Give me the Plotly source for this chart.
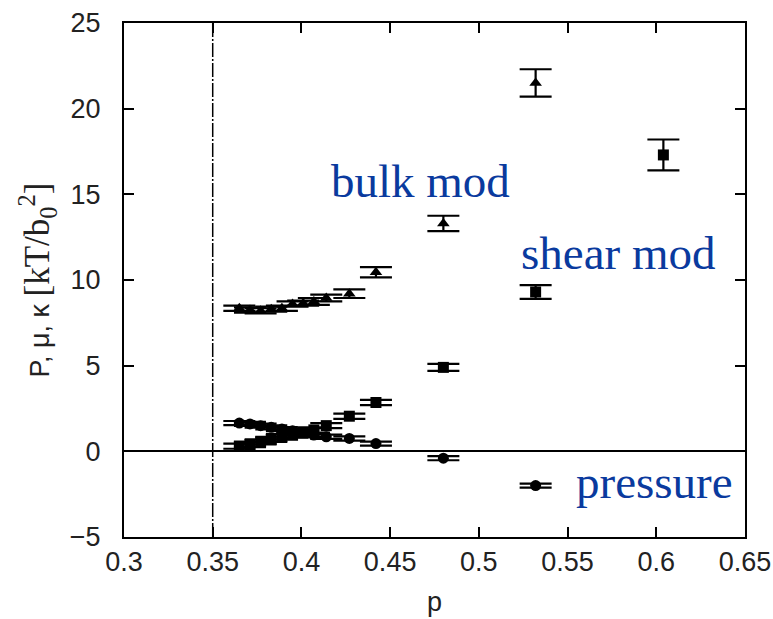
import plotly.graph_objects as go

# ---- data ----
p_vals = [0.365, 0.371, 0.377, 0.383, 0.389, 0.395, 0.401, 0.407, 0.414, 0.427, 0.442, 0.48, 0.532]
bulk_mod = [8.35, 8.25, 8.2, 8.3, 8.35, 8.6, 8.65, 8.75, 8.95, 9.2, 10.45, 13.3, 21.5]
bulk_err = [0.15, 0.15, 0.15, 0.15, 0.15, 0.15, 0.15, 0.2, 0.2, 0.25, 0.3, 0.45, 0.8]

shear_p = [0.365, 0.371, 0.377, 0.383, 0.389, 0.395, 0.401, 0.407, 0.414, 0.427, 0.442, 0.48, 0.532, 0.604]
shear_mod = [0.3, 0.4, 0.55, 0.7, 0.85, 0.95, 1.1, 1.25, 1.5, 2.05, 2.85, 4.9, 9.3, 17.3]
shear_err = [0.15, 0.15, 0.15, 0.15, 0.15, 0.15, 0.15, 0.15, 0.15, 0.15, 0.15, 0.2, 0.4, 0.9]

pressure = [1.65, 1.6, 1.5, 1.4, 1.3, 1.2, 1.1, 0.95, 0.85, 0.75, 0.45, -0.4, -2.0]
pressure_err = [0.12] * 13

p_c = 0.35  # vertical reference line

x_ticks = [0.3, 0.35, 0.4, 0.45, 0.5, 0.55, 0.6, 0.65]
y_ticks = [-5, 0, 5, 10, 15, 20, 25]

labels = [("bulk mod", 0.4157, 15.8), ("shear mod", 0.5225, 11.56), ("pressure", 0.5535, -1.8)]

BLUE = "#0a3a9e"

fig = go.Figure()

# vertical line at p_c
fig.add_trace(go.Scatter(x=[p_c, p_c], y=[-5, 25], mode="lines",
                         line=dict(color="black", width=1.5, dash="14px,2px,2px,2px"),
                         hoverinfo="skip", showlegend=False))

def add_series(x, y, err, symbol):
    fig.add_trace(go.Scatter(
        x=x, y=y, mode="markers",
        marker=dict(symbol=symbol, size=11, color="black"),
        error_y=dict(type="data", array=err, visible=True, color="black", thickness=2.2, width=16),
        showlegend=False))

add_series(p_vals, bulk_mod, bulk_err, "triangle-up")
add_series(shear_p, shear_mod, shear_err, "square")
add_series(p_vals, pressure, pressure_err, "circle")

for txt, x, y in labels:
    fig.add_annotation(x=x, y=y, text=txt, showarrow=False, xanchor="left", yanchor="middle",
                       font=dict(family="Liberation Serif", size=47, color=BLUE))

axis_common = dict(showline=True, linecolor="black", linewidth=2, mirror="ticks",
                   ticks="inside", ticklen=10, tickwidth=2, tickcolor="black",
                   showgrid=False, automargin=False,
                   tickfont=dict(family="Liberation Sans", size=27, color="#222"))

fig.update_xaxes(range=[0.3, 0.65], tickvals=x_ticks, ticktext=[f"{v:g}" for v in x_ticks],
                 zeroline=False, ticklabelstandoff=0,
                 title=dict(text="p", font=dict(family="Liberation Sans", size=27, color="#222"), standoff=16),
                 **axis_common)
fig.update_yaxes(range=[-5, 25], tickvals=y_ticks, ticktext=[("\u2212" + str(-v)) if v < 0 else str(v) for v in y_ticks],
                 zeroline=True, zerolinecolor="black", zerolinewidth=2, ticklabelstandoff=16,
                 title=dict(text="P, \u03bc, \u03ba <span style='font-family:Liberation Serif;font-size:35px'>[kT/b<sub>0</sub><sup>2</sup>]</span>",
                            font=dict(family="Liberation Sans", size=27, color="#222"), standoff=12),
                 **axis_common)

fig.update_layout(width=773, height=619, margin=dict(l=124, r=28, t=23, b=82),
                  paper_bgcolor="white", plot_bgcolor="white")

fig.write_html("out.html", config={"displayModeBar": False},
               post_script="document.body.style.margin='0';")
